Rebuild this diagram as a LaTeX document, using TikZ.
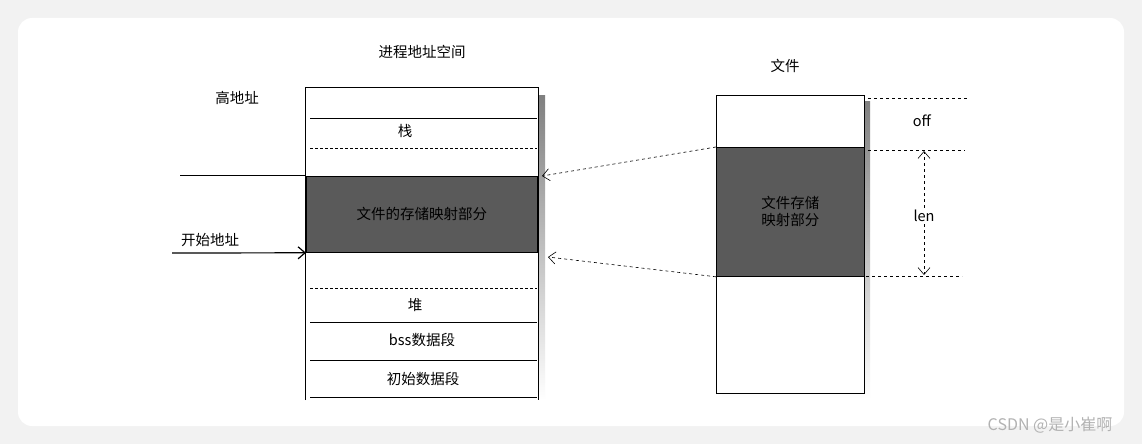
\documentclass[tikz,border=0pt]{standalone}
\usepackage{fontspec}
\setmainfont{Noto Sans CJK SC}
\usepackage{xcolor}
\usetikzlibrary{arrows.meta}
\definecolor{cardbg}{HTML}{F2F2F2}
\definecolor{mapfill}{HTML}{5A5A5A}
\definecolor{shade}{HTML}{A8A8A8}
\tikzset{barb/.style={-{Straight Barb[length=7pt,width=12pt]}}}
\begin{document}
\begin{tikzpicture}[x=1pt,y=-1pt,font=\fontsize{14.5}{17}\selectfont]
                \useasboundingbox (0,0) rectangle (1142,444);
                \fill[cardbg] (0,0) rectangle (1142,444);
                \fill[white,rounded corners=14pt] (18,18) rectangle (1124,426);
                % process address space
                \fill[shade] (538,95) rectangle (545,400);
                \draw[semithick] (305,400) -- (305,87) -- (538,87) -- (538,400);
                \begin{scope}[every node/.style={inner sep=1pt}]
                    \node (title) at (422,52) {进程地址空间};
                    \node (high) at (237,98) {高地址};
                    \node (stack) at (405,131) {栈};
                    \node (heap) at (415,305) {堆};
                    \node (bss) at (422,340) {bss数据段};
                    \node (init) at (423,379) {初始数据段};
                    \node (start) at (210,240) {开始地址};
                \end{scope}
                \draw[semithick] (310,118) -- (537,118);
                \draw[semithick,densely dashed] (310,148) -- (537,148);
                \draw[semithick,densely dashed] (310,288) -- (537,288);
                \draw[semithick] (310,322) -- (537,322);
                \draw[semithick] (310,360) -- (537,360);
                \draw[semithick] (310,397) -- (537,397);
                \node[draw,thick,fill=mapfill,minimum width=231pt,minimum height=76pt,anchor=north west]
                    (pmap) at (306,176) {文件的存储映射部分};
                \draw[semithick] (180,175) -- (305,175);
                \coordinate (startend) at (172,253);
                \draw[very thick,barb] (startend) -- (pmap.south west);
                % file
                \node (ftitle) at (785,66) {文件};
                \fill[shade] (722,101) rectangle (870,399);
                \node[draw,semithick,fill=white,minimum width=148pt,minimum height=298pt,anchor=north west,inner sep=0pt]
                    (file) at (716,95) {};
                \node[draw,thick,fill=mapfill,minimum width=148pt,minimum height=129pt,anchor=north west,align=center]
                    (fmap) at (716,147) {文件存储\\映射部分};
                \draw[semithick,dashed] (868,98) -- (968,98);
                \draw[semithick,dashed] (868,150) -- (965,150);
                \draw[semithick,dashed] (866,276) -- (962,276);
                \node (off) at (922,121) {off};
                \node[fill=white,inner sep=2pt] (len) at (924,216) {len};
                \draw[semithick,dashed,barb] (len) -- (924,151);
                \draw[semithick,dashed,barb] (len) -- (924,275);
                \draw[semithick,dashed,barb] (fmap.north west) -- (542,176);
                \draw[semithick,dashed,barb] (fmap.south west) -- (548,257);
                \node[text=gray!60,font=\fontsize{16}{18}\selectfont] (mark) at (1050,425) {CSDN @是小崔啊};
            \end{tikzpicture}
\end{document}
